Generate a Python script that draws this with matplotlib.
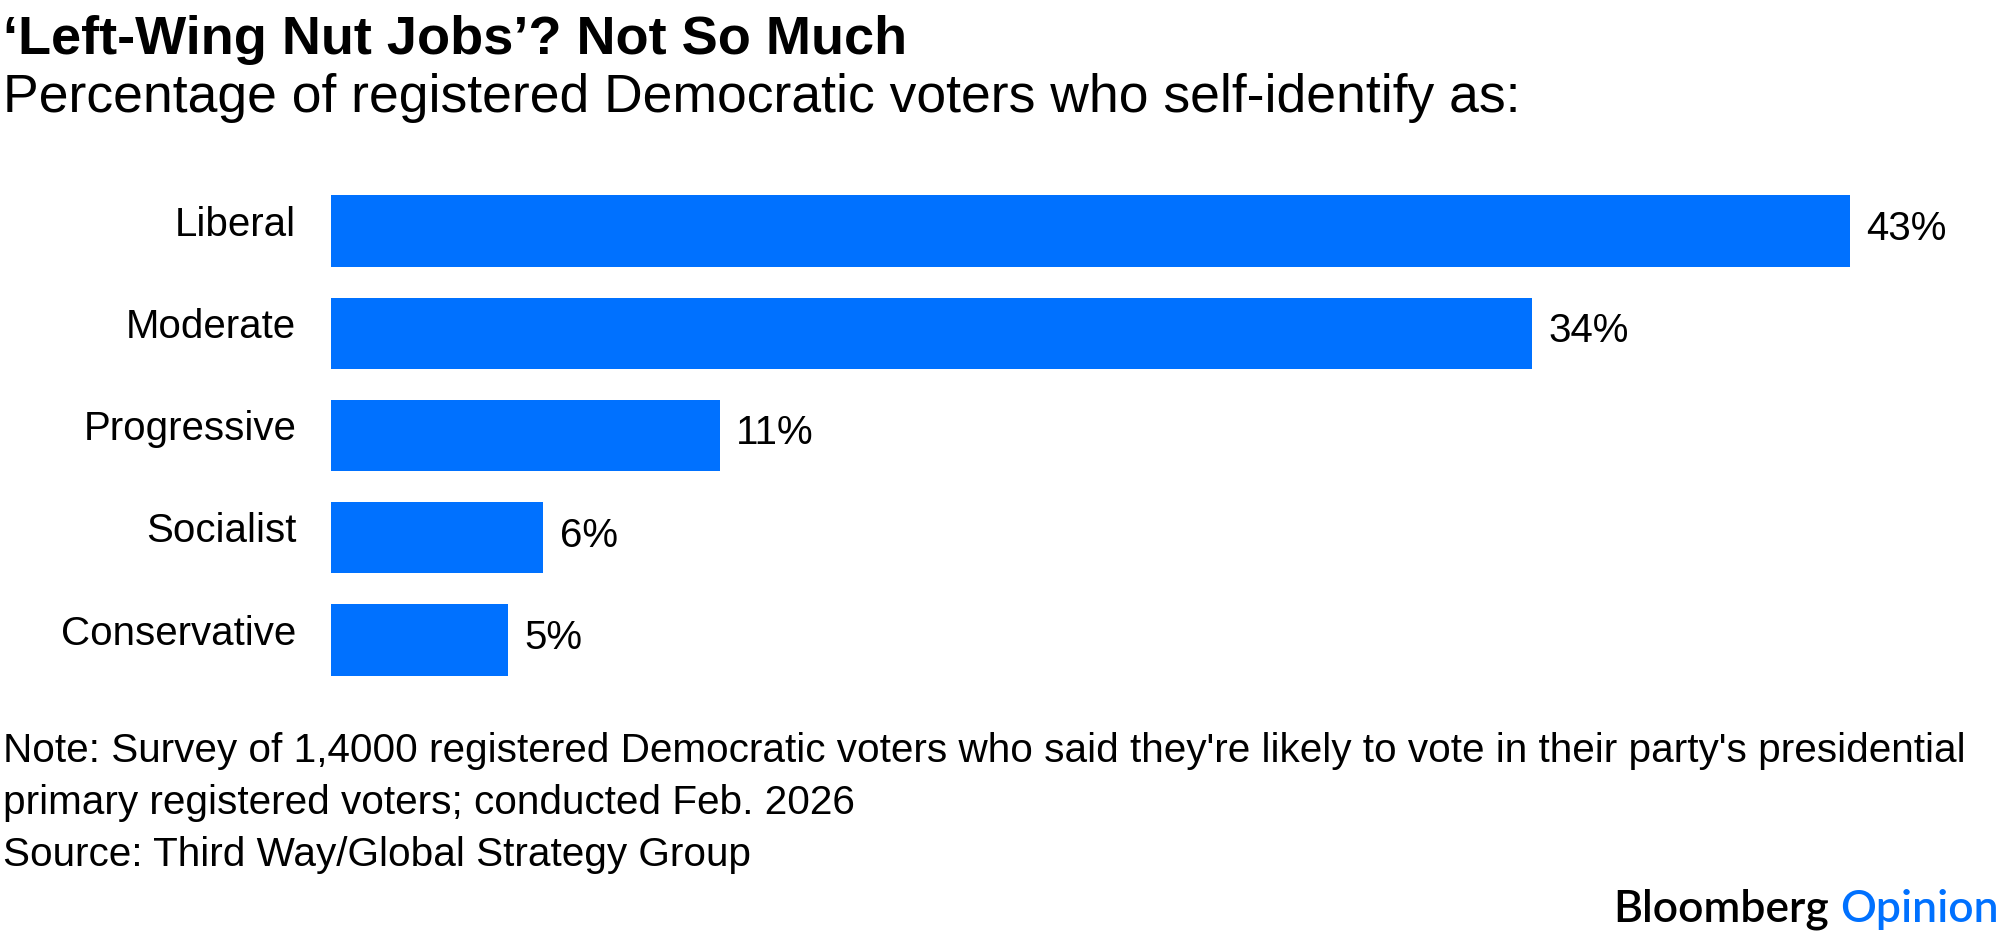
import matplotlib.pyplot as plt

# data
categories = ['Liberal', 'Moderate', 'Progressive', 'Socialist', 'Conservative']
shares = [43, 34, 11, 6, 5]

title = '\u2018Left-Wing Nut Jobs\u2019? Not So Much'
subtitle = 'Percentage of registered Democratic voters who self-identify as:'
note_lines = [
    "Note: Survey of 1,4000 registered Democratic voters who said they're likely to vote in their party's presidential",
    "primary registered voters; conducted Feb. 2026",
    "Source: Third Way/Global Strategy Group",
]

W, H = 2003, 936
bar_color = '#0071ff'
plt.rcParams['font.family'] = ['Liberation Sans', 'DejaVu Sans']

fig = plt.figure(figsize=(W / 100, H / 100), dpi=100)

# axes placed in pixels: zero line at x=331, 35.3 px per percent point
left_px, right_px = 331, 1950
top_px, bot_px = 180, 691
ax = fig.add_axes([left_px / W, 1 - bot_px / H, (right_px - left_px) / W, (bot_px - top_px) / H])

ypos = list(range(len(categories)))
ax.barh(ypos, shares, height=0.7, color=bar_color)
ax.set_xlim(0, (right_px - left_px) / 35.32)
ax.set_ylim(len(categories) - 0.5, -0.5)
ax.set_xticks([])
ax.set_yticks([])
for s in ax.spines.values():
    s.set_visible(False)

# category names to the left of the bars, value labels to the right
for y, name, v in zip(ypos, categories, shares):
    ax.annotate(name, xy=(0, y), xytext=(-25, 4.5), textcoords='offset points',
                ha='right', va='center', fontsize=29)
    ax.annotate(f'{v}%', xy=(v, y), xytext=(12, 1.5), textcoords='offset points',
                ha='left', va='center', fontsize=29)

# header
fig.text(3 / W, 1 - 54 / H, title, fontsize=39, fontweight='bold', va='baseline', ha='left')
fig.text(3 / W, 1 - 112 / H, subtitle, fontsize=38.5, va='baseline', ha='left')

# footer notes
for i, line in enumerate(note_lines):
    fig.text(3 / W, 1 - (762 + 52 * i) / H, line, fontsize=29.2, va='baseline', ha='left')

# branding
brand_font = ['Lato', 'DejaVu Sans']
t_op = fig.text(1999 / W, 1 - 922 / H, 'Opinion', fontsize=32, fontweight='semibold',
                family=brand_font, color=bar_color, ha='right', va='baseline')
fig.canvas.draw()
bb = t_op.get_window_extent()
fig.text((bb.x0 - 11) / W, 1 - 922 / H, 'Bloomberg', fontsize=32, fontweight='semibold',
         family=brand_font, color='black', ha='right', va='baseline')

fig.savefig('out.png', dpi=100, facecolor='white')
